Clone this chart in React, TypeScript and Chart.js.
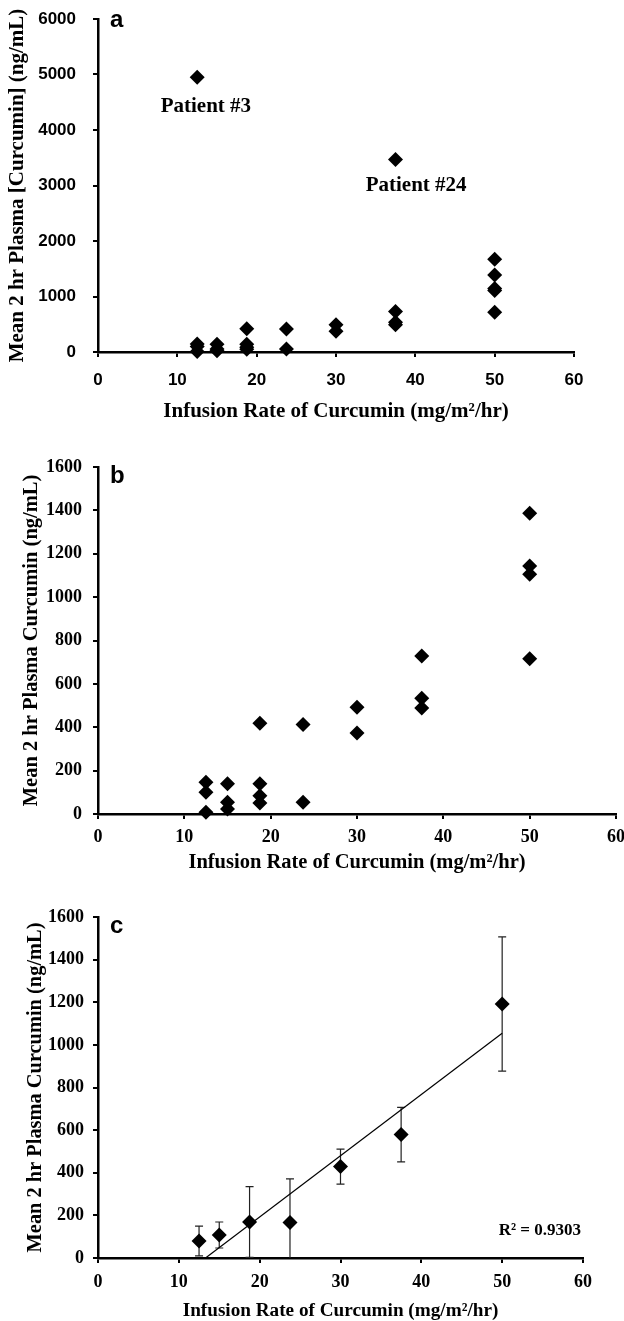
import React, { useEffect, useRef } from "react";
import { Chart, registerables } from "chart.js";
Chart.register(...registerables);

// ---------- DATA ----------
const xTickValues = [0, 10, 20, 30, 40, 50, 60];

// Panel a: individual patients, including outliers
const rateA = [12.5, 12.5, 12.5, 12.5, 15, 15, 15, 18.75, 18.75, 18.75, 18.75, 23.75, 23.75, 30, 30, 37.5, 37.5, 37.5, 37.5, 50, 50, 50, 50, 50];
const concA = [4950, 146, 100, 8, 140, 54, 23, 419, 140, 84, 51, 413, 54, 492, 373, 3470, 729, 534, 489, 1670, 1387, 1143, 1106, 716];
const noteTextA = ["Patient #3", "Patient #24"];
const noteXA = [13.6, 40.1];
const noteYA = [4430, 2990];

// Panel b: individual patients, outliers removed
const rateB = [12.5, 12.5, 12.5, 15, 15, 15, 18.75, 18.75, 18.75, 18.75, 23.75, 23.75, 30, 30, 37.5, 37.5, 37.5, 50, 50, 50, 50];
const concB = [146, 100, 8, 140, 54, 23, 419, 140, 84, 51, 413, 54, 492, 373, 729, 534, 489, 1387, 1143, 1106, 716];

// Panel c: means with SD and linear fit
const rateC = [12.5, 15, 18.75, 23.75, 30, 37.5, 50];
const meanC = [80, 108, 169, 166, 429, 579, 1192];
const sdC = [70, 61, 166, 205, 82, 128, 315];
const fitX = [13.3, 50];
const fitY = [0, 1055];
const r2Text = "R² = 0.9303";
const r2X = 59.75;
const r2Y = 127;

const xTitle = "Infusion Rate of Curcumin (mg/m²/hr)";
const yTitleA = "Mean 2 hr Plasma [Curcumin] (ng/mL)";
const yTitleBC = "Mean 2 hr Plasma Curcumin (ng/mL)";

// ---------- STYLE ----------
const SERIF = '"Liberation Serif", "Times New Roman", serif';
const SANS = '"Liberation Sans", Arial, sans-serif';

type Note = { text: string; x: number; y: number; align: CanvasTextAlign; font: string };

function notesPlugin(notes: Note[], letter: { text: string; dx: number; dy: number }) {
  return {
    id: "notes",
    afterDraw(chart: any) {
      const { ctx, chartArea } = chart;
      const xs = chart.scales.x;
      const ys = chart.scales.y;
      ctx.save();
      ctx.fillStyle = "#000";
      for (const n of notes) {
        ctx.font = n.font;
        ctx.textAlign = n.align;
        ctx.textBaseline = "middle";
        ctx.fillText(n.text, xs.getPixelForValue(n.x), ys.getPixelForValue(n.y));
      }
      ctx.font = `bold 24px ${SANS}`;
      ctx.textAlign = "left";
      ctx.textBaseline = "alphabetic";
      ctx.fillText(letter.text, chartArea.left + letter.dx, chartArea.top + letter.dy);
      ctx.restore();
    },
  };
}

const errorBarPlugin = {
  id: "errbars",
  beforeDatasetsDraw(chart: any) {
    const { ctx, chartArea } = chart;
    const xs = chart.scales.x;
    const ys = chart.scales.y;
    ctx.save();
    ctx.beginPath();
    ctx.rect(chartArea.left, chartArea.top - 10, chartArea.right - chartArea.left, chartArea.bottom - chartArea.top + 10);
    ctx.clip();
    ctx.strokeStyle = "#222";
    ctx.lineWidth = 1.2;
    for (let i = 0; i < rateC.length; i++) {
      const px = xs.getPixelForValue(rateC[i]);
      const hi = ys.getPixelForValue(meanC[i] + sdC[i]);
      const lo = ys.getPixelForValue(meanC[i] - sdC[i]);
      ctx.beginPath();
      ctx.moveTo(px, hi);
      ctx.lineTo(px, lo);
      ctx.moveTo(px - 4, hi);
      ctx.lineTo(px + 4, hi);
      ctx.moveTo(px - 4, lo);
      ctx.lineTo(px + 4, lo);
      ctx.stroke();
    }
    ctx.restore();
  },
};

type PanelSpec = {
  top: number;
  height: number;
  pad: { left: number; top: number; right: number; bottom: number };
  yWidth: number;
  xHeight: number;
  yMax: number;
  yStep: number;
  tickFont: any;
  xTickPad: number;
  yTickPad: number;
  xTitleSize: number;
  xTitlePad: number;
  yTitle: string;
  yTitleSize: number;
  yTitlePad: number;
  datasets: any[];
  plugins: any[];
};

const plainLabel = (v: any) => String(v);

function Panel({ spec }: { spec: PanelSpec }) {
  const ref = useRef<HTMLCanvasElement>(null);
  useEffect(() => {
    if (!ref.current) return;
    const gridCommon = {
      drawOnChartArea: false,
      drawTicks: true,
      tickLength: 5,
      color: "#000",
      lineWidth: 2,
    };
    const chart = new Chart(ref.current, {
      type: "scatter",
      data: { datasets: spec.datasets },
      plugins: spec.plugins,
      options: {
        animation: false,
        responsive: false,
        devicePixelRatio: 1,
        layout: { padding: spec.pad },
        plugins: { legend: { display: false }, tooltip: { enabled: false } },
        scales: {
          x: {
            type: "linear",
            min: 0,
            max: 60,
            afterFit: (s: any) => {
              s.height = spec.xHeight;
              s.paddingLeft = 0;
              s.paddingRight = 0;
            },
            afterBuildTicks: (s: any) => {
              s.ticks = xTickValues.map((v) => ({ value: v }));
            },
            border: { display: true, color: "#000", width: 2.5 },
            grid: gridCommon,
            ticks: { color: "#000", font: spec.tickFont, padding: spec.xTickPad, maxRotation: 0, callback: plainLabel },
            title: {
              display: true,
              text: xTitle,
              color: "#000",
              font: { family: SERIF, size: spec.xTitleSize, weight: "bold", lineHeight: 1 },
              padding: { top: 0, bottom: spec.xTitlePad },
            },
          },
          y: {
            type: "linear",
            min: 0,
            max: spec.yMax,
            afterFit: (s: any) => {
              s.width = spec.yWidth;
              s.paddingTop = 0;
              s.paddingBottom = 0;
            },
            border: { display: true, color: "#000", width: 2.5 },
            grid: gridCommon,
            ticks: { color: "#000", font: spec.tickFont, padding: spec.yTickPad, stepSize: spec.yStep, callback: plainLabel },
            title: {
              display: true,
              text: spec.yTitle,
              color: "#000",
              font: { family: SERIF, size: spec.yTitleSize, weight: "bold", lineHeight: 1 },
              padding: { top: spec.yTitlePad, bottom: 0 },
            },
          },
        },
      } as any,
    });
    return () => chart.destroy();
  }, [spec]);
  return (
    <canvas
      ref={ref}
      width={624}
      height={spec.height}
      style={{ position: "absolute", left: 0, top: spec.top, width: 624, height: spec.height, display: "block" }}
    />
  );
}

const pointStyle = {
  pointStyle: "rectRot",
  pointRadius: 7.5,
  pointBackgroundColor: "#000",
  pointBorderColor: "#000",
  pointBorderWidth: 0,
  showLine: false,
  clip: false,
};

const toPts = (xs: number[], ys: number[]) => xs.map((x, i) => ({ x, y: ys[i] }));

const specA: PanelSpec = {
  top: 0,
  height: 440,
  pad: { left: 0, top: 19, right: 50, bottom: 0 },
  yWidth: 98,
  xHeight: 88,
  yMax: 6000,
  yStep: 1000,
  tickFont: { family: SANS, size: 17, weight: "bold", lineHeight: 1 },
  xTickPad: 15,
  yTickPad: 17,
  xTitleSize: 21,
  xTitlePad: 17.5,
  yTitle: yTitleA,
  yTitleSize: 21,
  yTitlePad: 7.5,
  datasets: [{ data: toPts(rateA, concA), ...pointStyle }],
  plugins: [
    notesPlugin(
      noteTextA.map((t, i) => ({ text: t, x: noteXA[i], y: noteYA[i], align: "center" as CanvasTextAlign, font: `bold 21px ${SERIF}` })),
      { text: "a", dx: 12, dy: 8 }
    ),
  ],
};

const specB: PanelSpec = {
  top: 440,
  height: 440,
  pad: { left: 0, top: 27, right: 8, bottom: 0 },
  yWidth: 98,
  xHeight: 66,
  yMax: 1600,
  yStep: 200,
  tickFont: { family: SERIF, size: 18, weight: "bold", lineHeight: 1 },
  xTickPad: 9,
  yTickPad: 11,
  xTitleSize: 20.5,
  xTitlePad: 6.75,
  yTitle: yTitleBC,
  yTitleSize: 20.5,
  yTitlePad: 21.75,
  datasets: [{ data: toPts(rateB, concB), ...pointStyle }],
  plugins: [notesPlugin([], { text: "b", dx: 12, dy: 16 })],
};

const specC: PanelSpec = {
  top: 880,
  height: 441,
  pad: { left: 0, top: 37, right: 41, bottom: 0 },
  yWidth: 98,
  xHeight: 63,
  yMax: 1600,
  yStep: 200,
  tickFont: { family: SERIF, size: 18, weight: "bold", lineHeight: 1 },
  xTickPad: 10,
  yTickPad: 9,
  xTitleSize: 19.2,
  xTitlePad: 0,
  yTitle: yTitleBC,
  yTitleSize: 20.4,
  yTitlePad: 25.8,
  datasets: [
    {
      type: "line",
      data: toPts(fitX, fitY),
      borderColor: "#000",
      borderWidth: 1.2,
      pointRadius: 0,
      showLine: true,
      fill: false,
      clip: false,
    },
    { data: toPts(rateC, meanC), ...pointStyle },
  ],
  plugins: [
    errorBarPlugin,
    notesPlugin([{ text: r2Text, x: r2X, y: r2Y, align: "right", font: `bold 17px ${SERIF}` }], { text: "c", dx: 12, dy: 16 }),
  ],
};

export default function App() {
  return (
    <div style={{ position: "absolute", left: 0, top: 0, width: 624, height: 1321, background: "#fff" }}>
      <Panel spec={specA} />
      <Panel spec={specB} />
      <Panel spec={specC} />
    </div>
  );
}
